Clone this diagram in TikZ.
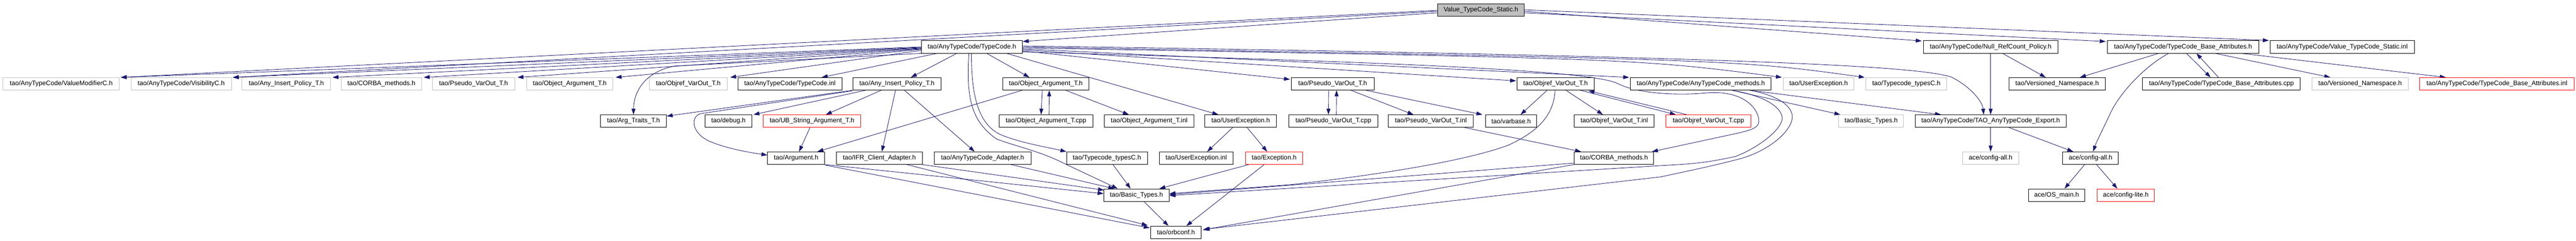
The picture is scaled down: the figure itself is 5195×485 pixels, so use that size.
\documentclass[tikz,border=0pt]{standalone}
\usepackage{fontspec}
\setmainfont{Liberation Sans}
\usetikzlibrary{arrows.meta,calc,backgrounds}
\definecolor{edgec}{HTML}{191970}
\definecolor{graybd}{HTML}{BFBFBF}
\definecolor{rootfill}{HTML}{BFBFBF}
\definecolor{redbd}{HTML}{FF0000}
\tikzset{
  boxbase/.style={rectangle, minimum height=25pt, inner sep=0pt, line width=1pt, fill=white, text=black,
    font=\fontsize{13.1}{15}\selectfont},
  nb/.style={boxbase, draw=black},
  gb/.style={boxbase, draw=graybd},
  rb/.style={boxbase, draw=redbd},
  rootbox/.style={boxbase, draw=black, fill=rootfill},
  edge/.style={draw=edgec, line width=0.9pt, -{Triangle[length=12pt,width=8pt]}}
}
\begin{document}
\begin{tikzpicture}[x=1pt,y=-1pt]
\useasboundingbox (0,0) rectangle (5195,485);
% row 0
\node[rootbox, minimum width=175] (root) at (2986.5,19.8) {Value\_TypeCode\_Static.h};
% row 1
\node[nb, minimum width=204] (tc) at (1960,94.5) {tao/AnyTypeCode/TypeCode.h};
\node[nb, minimum width=271] (nrp) at (4014.5,94.5) {tao/AnyTypeCode/Null\_RefCount\_Policy.h};
\node[nb, minimum width=305] (tcba) at (4402.5,94.5) {tao/AnyTypeCode/TypeCode\_Base\_Attributes.h};
\node[nb, minimum width=291] (vtsi) at (4723.5,94.5) {tao/AnyTypeCode/Value\_TypeCode\_Static.inl};
% row 2
\node[gb, minimum width=235] (vmc) at (123.5,168.8) {tao/AnyTypeCode/ValueModifierC.h};
\node[gb, minimum width=203] (visc) at (365.5,168.8) {tao/AnyTypeCode/VisibilityC.h};
\node[gb, minimum width=179] (aipg) at (577.5,168.8) {tao/Any\_Insert\_Policy\_T.h};
\node[gb, minimum width=162] (cmg) at (769,168.8) {tao/CORBA\_methods.h};
\node[gb, minimum width=166] (pvg) at (955,168.8) {tao/Pseudo\_VarOut\_T.h};
\node[gb, minimum width=174] (oag) at (1149,168.8) {tao/Object\_Argument\_T.h};
\node[gb, minimum width=156] (ovg) at (1388,168.8) {tao/Objref\_VarOut\_T.h};
\node[nb, minimum width=210] (tcinl) at (1593,168.8) {tao/AnyTypeCode/TypeCode.inl};
\node[nb, minimum width=178] (aip) at (1809,168.8) {tao/Any\_Insert\_Policy\_T.h};
\node[nb, minimum width=174] (oa) at (2109,168.8) {tao/Object\_Argument\_T.h};
\node[nb, minimum width=167] (pv) at (2687.5,168.8) {tao/Pseudo\_VarOut\_T.h};
\node[nb, minimum width=156] (ov) at (3137,168.8) {tao/Objref\_VarOut\_T.h};
\node[nb, minimum width=284] (atm) at (3430,168.8) {tao/AnyTypeCode/AnyTypeCode\_methods.h};
\node[gb, minimum width=143] (ueg) at (3667.5,168.8) {tao/UserException.h};
\node[gb, minimum width=163] (tctg) at (3844.5,168.8) {tao/Typecode\_typesC.h};
\node[nb, minimum width=195] (vn) at (4148.5,168.8) {tao/Versioned\_Namespace.h};
\node[nb, minimum width=318] (tcbacpp) at (4480,168.8) {tao/AnyTypeCode/TypeCode\_Base\_Attributes.cpp};
\node[gb, minimum width=195] (vng) at (4759.5,168.8) {tao/Versioned\_Namespace.h};
\node[rb, minimum width=311] (tcbainl) at (5035.5,168.8) {tao/AnyTypeCode/TypeCode\_Base\_Attributes.inl};
% row 3
\node[nb, minimum width=133] (argtr) at (1277.5,243.8) {tao/Arg\_Traits\_T.h};
\node[nb, minimum width=94] (dbg) at (1469,243.8) {tao/debug.h};
\node[rb, minimum width=197] (ubs) at (1637.5,243.8) {tao/UB\_String\_Argument\_T.h};
\node[nb, minimum width=189] (oacpp) at (2109.5,243.8) {tao/Object\_Argument\_T.cpp};
\node[nb, minimum width=181] (oainl) at (2317.5,243.8) {tao/Object\_Argument\_T.inl};
\node[nb, minimum width=144] (ue) at (2502,243.8) {tao/UserException.h};
\node[nb, minimum width=180] (pvcpp) at (2689,243.8) {tao/Pseudo\_VarOut\_T.cpp};
\node[nb, minimum width=171] (pvinl) at (2885.5,243.8) {tao/Pseudo\_VarOut\_T.inl};
\node[nb, minimum width=103] (vb) at (3047.5,243.8) {tao/varbase.h};
\node[nb, minimum width=161] (ovinl) at (3255.5,243.8) {tao/Objref\_VarOut\_T.inl};
\node[rb, minimum width=171] (ovcpp) at (3445.5,243.8) {tao/Objref\_VarOut\_T.cpp};
\node[gb, minimum width=131] (btg) at (3773.5,243.8) {tao/Basic\_Types.h};
\node[nb, minimum width=305] (exp) at (4014.5,243.8) {tao/AnyTypeCode/TAO\_AnyTypeCode\_Export.h};
% row 4
\node[nb, minimum width=115] (arg) at (1605.5,318.3) {tao/Argument.h};
\node[nb, minimum width=173] (ifr) at (1773.5,318.3) {tao/IFR\_Client\_Adapter.h};
\node[nb, minimum width=195] (atca) at (1981.5,318.3) {tao/AnyTypeCode\_Adapter.h};
\node[nb, minimum width=163] (tct) at (2232.5,318.3) {tao/Typecode\_typesC.h};
\node[nb, minimum width=149] (ueinl) at (2412.5,318.3) {tao/UserException.inl};
\node[rb, minimum width=115] (ex) at (2569.5,318.3) {tao/Exception.h};
\node[nb, minimum width=160] (cm) at (3255,318.3) {tao/CORBA\_methods.h};
\node[gb, minimum width=113] (cag) at (4014.5,318.3) {ace/config-all.h};
\node[nb, minimum width=112] (ca) at (4216,318.3) {ace/config-all.h};
% row 5
\node[nb, minimum width=132] (bt) at (2292,392.8) {tao/Basic\_Types.h};
\node[nb, minimum width=113] (osm) at (4147.5,392.8) {ace/OS\_main.h};
\node[rb, minimum width=116] (cl) at (4287,392.8) {ace/config-lite.h};
% row 6
\node[nb, minimum width=101] (oc) at (2371.5,467.8) {tao/orbconf.h};

\begin{scope}[on background layer]
% root
\draw[edge] ($(root.west)+(0,6)$) -- ($(tc.north east)+(0,2)$);
\draw[edge] ($(root.west)+(0,1)$) -- ($(vmc.north east)+(2,0)$);
\draw[edge] ($(root.west)+(0,3)$) -- ($(visc.north east)+(2,0)$);
\draw[edge] ($(root.east)+(0,3)$) -- ($(nrp.north west)+(-3,1)$);
\draw[edge] ($(root.east)+(0,6)$) -- ($(tcba.north west)+(-3,2)$);
\draw[edge] ($(root.east)+(0,0)$) -- ($(vtsi.north west)+(-2,0)$);
% TypeCode.h, left group
\draw[edge] ($(tc.west)+(0,0)$) -- ($(vmc.north east)+(2,0)$);
\draw[edge] ($(tc.west)+(0,1)$) -- ($(visc.north east)+(2,0)$);
\draw[edge] ($(tc.west)+(0,2)$) -- ($(aipg.north east)+(3,0)$);
\draw[edge] ($(tc.west)+(0,3)$) -- ($(cmg.north east)+(4,0)$);
\draw[edge] ($(tc.west)+(0,4)$) -- ($(pvg.north east)+(5,0)$);
\draw[edge] ($(tc.west)+(0,5)$) -- ($(oag.north east)+(5,0)$);
\draw[edge] ($(tc.west)+(0,7)$) -- ($(ovg.north east)+(6,0)$);
\draw[edge] (tc.south west) -- (1360,133) .. controls (1300,145) and (1278,185) .. (argtr.north);
\draw[edge] ($(tc.south west)+(32,0)$) -- ($(tcinl.north)+(64,0)$);
\draw[edge] ($(tc.south west)+(72,0)$) -- ($(aip.north)+(28,0)$);
\draw[edge] ($(tc.south)+(30,0)$) -- ($(oa.north)+(-33,0)$);
\draw[edge] ($(tc.south)+(-1,0)$) .. controls (1959,180) and (1968,250) .. (2020,272) .. controls (2060,288) and (2110,296) .. (tct.north west);
\draw[edge] ($(tc.south)+(-6,0)$) .. controls (1948,200) and (1960,245) .. (2010,280) .. controls (2050,295) and (2100,305) .. (2150,331) -- ($(bt.north)+(-38,0)$);
\draw[edge] ($(tc.south)+(70,0)$) -- ($(ue.north)+(-45,0)$);
% TypeCode.h, right group
\draw[edge] ($(tc.east)+(0,8)$) -- ($(pv.north west)+(-2,4)$);
\draw[edge] ($(tc.east)+(0,6)$) -- ($(ov.west)+(-1,-6)$);
\draw[edge] ($(tc.east)+(0,4)$) -- ($(atm.north west)+(-2,0)$);
\draw[edge] ($(tc.east)+(0,2)$) .. controls (3300,118) .. ($(ueg.north west)+(-2,0)$);
\draw[edge] ($(tc.east)+(0,0)$) .. controls (3500,120) .. ($(tctg.north west)+(-2,0)$);
\draw[edge] ($(tc.east)+(0,-2)$) .. controls (3600,115) and (3870,135) .. (3935,155) .. controls (3975,175) and (3998,205) .. ($(exp.north)+(-14,0)$);
\draw[edge] ($(tc.east)+(0,10)$) .. controls (2800,125) and (3205,141) .. (3262,168) .. controls (3300,188) and (3380,193) .. (3442,187) .. controls (3520,181) and (3548,222) .. (3547,245) .. controls (3546,258) and (3530,262) .. (3505,268) -- ($(cm.north east)+(-4,0)$);
% Any_Insert_Policy_T.h
\draw[edge] (aip.south west) -- ($(argtr.north east)+(0,3)$);
\draw[edge] ($(aip.south west)+(0,1)$) -- (1412,229) .. controls (1392,236) and (1395,268) .. (1430,284) .. controls (1462,298) and (1505,306) .. ($(arg.west)+(0,-6)$);
\draw[edge] ($(aip.south west)+(26,0)$) -- ($(dbg.north east)+(3,0)$);
\draw[edge] ($(aip.south)+(-32,0)$) -- ($(ubs.north)+(28,0)$);
\draw[edge] ($(aip.south)+(-3,0)$) -- ($(ifr.north)+(5,0)$);
\draw[edge] ($(aip.south)+(15,0)$) -- ($(atca.north)+(-16,0)$);
\draw[edge] ($(ubs.south)+(-4,0)$) -- ($(arg.north)+(6,0)$);
% Object_Argument_T.h
\draw[edge] ($(oa.south west)+(40,0)$) -- ($(arg.north east)+(-15,0)$);
\draw[edge] ($(oa.south)+(-7,0)$) -- ($(oacpp.north)+(-10,0)$);
\draw[edge] ($(oacpp.north)+(6,0)$) -- ($(oa.south)+(7,0)$);
\draw[edge] ($(oa.south)+(40,0)$) -- ($(oainl.north)+(-41,0)$);
% UserException, Exception
\draw[edge] ($(ue.south)+(-16,0)$) -- ($(ueinl.north)+(22,0)$);
\draw[edge] ($(ue.south)+(13,0)$) -- ($(ex.north)+(-14,0)$);
\draw[edge] ($(ex.south west)+(7,0)$) -- ($(bt.north)+(46,0)$);
\draw[edge] ($(ex.south)+(-20,0)$) -- ($(oc.north)+(21,0)$);
\draw[edge] ($(bt.south)+(15,0)$) -- ($(oc.north)+(-15,0)$);
\draw[edge] ($(tct.south)+(12,0)$) -- ($(bt.north)+(-12,0)$);
\draw[edge] ($(atca.south)+(57,0)$) -- ($(bt.north)+(-45,0)$);
\draw[edge] (arg.south east) -- ($(bt.west)+(0,-3)$);
\draw[edge] ($(arg.south east)+(0,1)$) -- ($(oc.north west)+(-2,4)$);
\draw[edge] ($(ifr.south east)+(-1,0)$) -- ($(bt.north west)+(1,3)$);
\draw[edge] ($(ifr.south)+(55,0)$) -- ($(oc.north west)+(-6,-1)$);
% Pseudo_VarOut_T.h
\draw[edge] ($(pv.south)+(-8,0)$) -- ($(pvcpp.north)+(-10,0)$);
\draw[edge] ($(pvcpp.north)+(6,0)$) -- ($(pv.south)+(8,0)$);
\draw[edge] ($(pv.south)+(37,0)$) -- ($(pvinl.north)+(-35,0)$);
\draw[edge] ($(pv.south east)+(-17,0)$) -- ($(vb.north west)+(-6,0)$);
\draw[edge] ($(pvinl.south east)+(-18,0)$) -- ($(cm.north west)+(14,0)$);
% Objref_VarOut_T.h
\draw[edge] ($(ov.south)+(-17,0)$) -- ($(vb.north)+(19,0)$);
\draw[edge] ($(ov.south)+(21,0)$) -- ($(ovinl.north)+(-23,0)$);
\draw[edge] ($(ov.south)+(50,0)$) -- ($(ovcpp.north)+(-66,0)$);
\draw[edge] ($(ovcpp.north)+(-44,0)$) -- ($(ov.south east)+(-12,1)$);
\draw[edge] ($(ov.south)+(-1,0)$) .. controls (3134,225) and (3110,262) .. (3040,293) .. controls (2960,322) and (2800,350) .. (2600,372) -- ($(bt.east)+(0,-3)$);
% CORBA_methods.h
\draw[edge] ($(cm.west)+(0,10)$) -- ($(bt.east)+(0,-1)$);
\draw[edge] (cm.south west) -- ($(oc.east)+(3,-5)$);
% AnyTypeCode_methods.h
\draw[edge] ($(atm.south)+(63,0)$) .. controls (3570,195) and (3596,222) .. (3594,240) .. controls (3590,265) and (3540,300) .. (3500,315) .. controls (3450,326) and (3420,329) .. (3390,331) -- ($(bt.east)+(0,1)$);
\draw[edge] ($(atm.south)+(99,0)$) .. controls (3600,195) and (3618,222) .. (3614,240) .. controls (3608,270) and (3560,308) .. (3500,322) .. controls (3450,335) and (3400,345) .. (3350,356) -- ($(oc.east)+(5,-6)$);
\draw[edge] ($(atm.south)+(63,0)$) -- ($(btg.north west)+(4,0)$);
\draw[edge] ($(atm.south)+(99,0)$) -- ($(exp.north west)+(53,0)$);
% Null_RefCount_Policy.h
\draw[edge] (nrp.south) -- (exp.north);
\draw[edge] ($(nrp.south)+(24,0)$) -- ($(vn.north)+(-23,0)$);
% TypeCode_Base_Attributes.h
\draw[edge] ($(tcba.south)+(-49,0)$) -- ($(vn.north)+(46,0)$);
\draw[edge] ($(tcba.south)+(-29,0)$) .. controls (4330,130) and (4275,185) .. (4255,230) .. controls (4240,262) and (4228,285) .. ($(ca.north)+(5,0)$);
\draw[edge] ($(tcba.south)+(7,0)$) -- ($(tcbacpp.north)+(-22,0)$);
\draw[edge] ($(tcbacpp.north)+(-6,0)$) -- ($(tcba.south)+(27,0)$);
\draw[edge] ($(tcba.south east)+(-88,0)$) -- ($(vng.north)+(-60,0)$);
\draw[edge] ($(tcba.south east)+(-35,0)$) -- ($(tcbainl.north)+(-103,0)$);
% Export and config
\draw[edge] (exp.south) -- (cag.north);
\draw[edge] ($(exp.south)+(37,0)$) -- ($(ca.north)+(-35,0)$);
\draw[edge] ($(ca.south)+(-12,0)$) -- ($(osm.north)+(16,0)$);
\draw[edge] ($(ca.south)+(12,0)$) -- ($(cl.north)+(-17,0)$);
\end{scope}
\end{tikzpicture}
\end{document}
